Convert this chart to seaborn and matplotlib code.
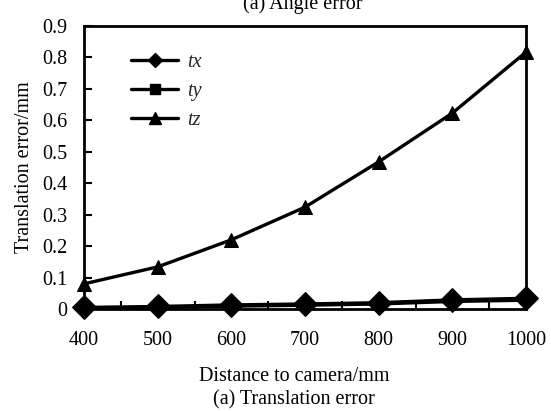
import matplotlib
matplotlib.use("Agg")
import matplotlib.pyplot as plt
import seaborn as sns
import pandas as pd
from matplotlib.lines import Line2D

distance = [400, 500, 600, 700, 800, 900, 1000]
tx = [0.005, 0.008, 0.013, 0.016, 0.020, 0.029, 0.034]
ty = [0.003, 0.005, 0.009, 0.012, 0.016, 0.024, 0.028]
tz = [0.080, 0.134, 0.220, 0.324, 0.468, 0.623, 0.817]
series_labels = ["tx", "ty", "tz"]
y_ticks = [0, 0.1, 0.2, 0.3, 0.4, 0.5, 0.6, 0.7, 0.8, 0.9]
y_tick_labels = ["0", "0.1", "0.2", "0.3", "0.4", "0.5", "0.6", "0.7", "0.8", "0.9"]

sns.set_theme(style="white")
plt.rcParams["font.family"] = ["Liberation Serif", "DejaVu Serif"]
FS = 14.5

fig = plt.figure(figsize=(5.51, 4.11), dpi=100)
ax = fig.add_axes([84/551, 1-309/411, (526-84)/551, (309-26)/411])

df = pd.DataFrame({"distance": distance, "tx": tx, "ty": ty, "tz": tz})

sns.lineplot(data=df, x="distance", y="ty", ax=ax, color="black", lw=2.4,
             marker="s", markersize=6, markeredgecolor="black", clip_on=False)
sns.lineplot(data=df, x="distance", y="tz", ax=ax, color="black", lw=2.4,
             marker="^", markersize=10, markeredgecolor="black", clip_on=False)
sns.lineplot(data=df, x="distance", y="tx", ax=ax, color="black", lw=2.4,
             marker="D", markersize=12.5, markeredgecolor="black", clip_on=False)

ax.set_xlim(400, 1000)
ax.set_ylim(0, 0.9)
ax.set_yticks(y_ticks)
ax.set_yticklabels(y_tick_labels)
ax.set_xticks(distance)
ax.set_xticklabels([str(d) for d in distance])
ax.set_xticks([450, 550, 650, 750, 850, 950], minor=True)
ax.tick_params(axis="x", which="major", length=0, labelsize=FS, pad=16, colors="black")
ax.tick_params(axis="x", which="minor", direction="in", length=6, width=1.5, color="black", bottom=True)
ax.tick_params(axis="y", which="major", direction="in", length=6, width=1.5, labelsize=FS, pad=12, colors="black", left=True)

for s in ax.spines.values():
    s.set_color("black")
    s.set_linewidth(2.0)

ax.set_xlabel("")
ax.set_ylabel("Translation error/mm", fontsize=FS, color="black", labelpad=6)

handles = [
    Line2D([], [], color="black", lw=2.4, marker="D", markersize=7),
    Line2D([], [], color="black", lw=2.4, marker="s", markersize=7),
    Line2D([], [], color="black", lw=2.4, marker="^", markersize=8),
]
leg = ax.legend(handles, series_labels, loc="upper left", bbox_to_anchor=(0.065, 0.97),
                frameon=False, handlelength=2.35, labelspacing=0.5, handletextpad=0.45,
                prop={"style": "italic", "size": FS, "family": "Liberation Serif"})

fig.text(294/551, 1-376/411, "Distance to camera/mm", ha="center", va="center", fontsize=FS, color="black")
fig.text(294/551, 1-400/411, "(a) Translation error", ha="center", va="center", fontsize=FS, color="black")
fig.text(303/551, 1-4/411, "(a) Angle error", ha="center", va="center", fontsize=FS, color="black")

fig.savefig("out.png", dpi=100)
